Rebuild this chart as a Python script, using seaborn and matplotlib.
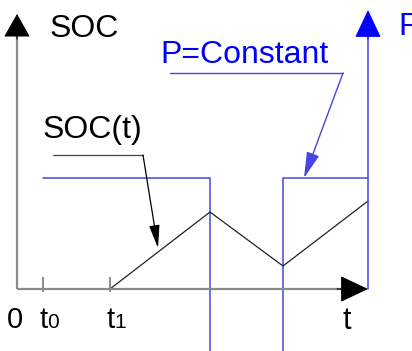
import matplotlib
matplotlib.use("Agg")
import matplotlib.pyplot as plt
import matplotlib.transforms as mtransforms
import seaborn as sns
import pandas as pd

sns.set_theme(style="white")
plt.rcParams["font.family"] = ["Liberation Sans", "DejaVu Sans"]

# time axis (arbitrary units) and the two signals
soc_t = [93, 193, 266, 351]
soc_v = [0, 77, 23, 88]
p_t = [26, 193, 266, 351]
p_v = [111, -111, 111, 111]
tick_t = [26, 93]
tick_subs = ["0", "1"]

BLUE_TXT = "#0000ff"
BLUE_LN = "#4646e6"
AX_C = "#8a8a8a"

fig = plt.figure(figsize=(4.12, 3.51), dpi=100)
ax = fig.add_axes([0, 0, 1, 1])
ax.set_xlim(-17, 395)
ax.set_ylim(-62, 289)
ax.axis("off")

soc_df = pd.DataFrame({"t": soc_t, "soc": soc_v})
p_df = pd.DataFrame({"t": p_t, "p": p_v})

# power profile as a step function
sns.lineplot(data=p_df, x="t", y="p", drawstyle="steps-post", color=BLUE_LN,
             lw=1.1, ax=ax, estimator=None)
# state of charge
sns.lineplot(data=soc_df, x="t", y="soc", color="#222222", lw=0.9, ax=ax,
             estimator=None)


def head(x0, y0, x1, y1, color, length, half_width):
    ax.annotate("", xy=(x1, y1), xytext=(x0, y0),
                arrowprops=dict(arrowstyle=f"-|>,head_length={length},head_width={half_width}",
                                mutation_scale=1, color=color, lw=0.8,
                                shrinkA=0, shrinkB=0))


# SOC axis and time axis (grey shafts, black heads)
ax.plot([0, 0], [0, 258], color=AX_C, lw=1.6, solid_capstyle="butt")
head(0, 250, 0, 275, "black", 15, 8.5)
ax.plot([0, 330], [0, 0], color=AX_C, lw=1.6, solid_capstyle="butt")
head(320, 0, 351, 0, "black", 18, 8.5)
# P axis
ax.plot([351, 351], [0, 258], color=BLUE_LN, lw=1.1)
head(351, 250, 351, 279, BLUE_TXT, 18, 8.5)

# ticks at t0, t1
ax.vlines(tick_t, -3, 12, color=AX_C, lw=1.4)
for t, sub in zip(tick_t, tick_subs):
    ax.text(t - 3, -39, "t", fontsize=21, ha="left", va="baseline", color="black")
    tr = mtransforms.offset_copy(ax.transData, fig=fig, x=5.2, units="points")
    ax.text(t - 3, -39, sub, fontsize=15, ha="left", va="baseline",
            color="black", transform=tr)
ax.text(-2, -39, "0", fontsize=21, ha="center", va="baseline", color="black")
ax.text(330, -40, "t", fontsize=22, ha="center", va="baseline", color="black")

# axis titles
ax.text(33, 252, "SOC", fontsize=23, ha="left", va="baseline", color="black")
ax.text(381, 254, "P", fontsize=23, ha="left", va="baseline", color=BLUE_TXT)

# callouts
ax.text(143, 226, "P=Constant", fontsize=23, ha="left", va="baseline", color=BLUE_TXT)
ax.plot([153, 326], [216, 216], color=BLUE_LN, lw=1.0)
ax.annotate("", xy=(287, 111), xytext=(326, 216),
            arrowprops=dict(arrowstyle="-|>,head_length=16,head_width=4",
                            mutation_scale=1, color=BLUE_LN, lw=1.0,
                            shrinkA=0, shrinkB=0))

ax.text(26, 151, "SOC(t)", fontsize=23, ha="left", va="baseline", color="black")
ax.plot([36, 126], [134, 134], color="#444444", lw=0.9)
ax.annotate("", xy=(141, 41), xytext=(126, 134),
            arrowprops=dict(arrowstyle="-|>,head_length=14,head_width=3.2",
                            mutation_scale=1, color="black", lw=0.9,
                            shrinkA=0, shrinkB=0))

fig.savefig("out.png", dpi=100)
